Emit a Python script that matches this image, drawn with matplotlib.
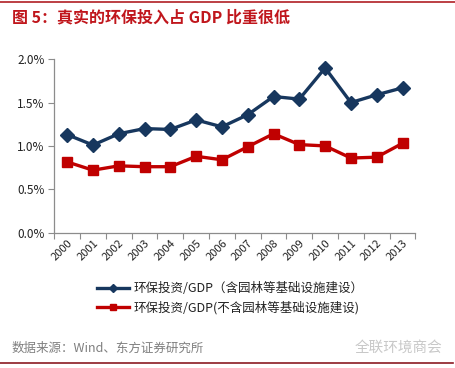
import matplotlib
matplotlib.use("Agg")
import matplotlib.pyplot as plt
from matplotlib.lines import Line2D
from matplotlib.ticker import FuncFormatter, FixedLocator

plt.rcParams['font.family'] = ['Noto Sans CJK SC', 'DejaVu Sans']

years = ['2000', '2001', '2002', '2003', '2004', '2005', '2006',
         '2007', '2008', '2009', '2010', '2011', '2012', '2013']
incl_garden = [1.13, 1.01, 1.14, 1.20, 1.19, 1.30, 1.22,
               1.36, 1.57, 1.54, 1.90, 1.50, 1.59, 1.67]
excl_garden = [0.815, 0.72, 0.77, 0.76, 0.76, 0.88, 0.84,
               0.99, 1.14, 1.015, 1.00, 0.86, 0.87, 1.03]
series_labels = ['环保投资/GDP（含园林等基础设施建设）',
                 '环保投资/GDP(不含园林等基础设施建设)']
y_ticks = [0.0, 0.5, 1.0, 1.5, 2.0]
title = '图 5：真实的环保投入占 GDP 比重很低'
source = '数据来源：Wind、东方证券研究所'
watermark = '全联环境商会'

BLUE = '#17375E'
RED = '#C00000'
AXC = '#8C8C8C'

fig = plt.figure(figsize=(4.56, 3.68), dpi=100)
ax = fig.add_axes([0.119, 0.368, 0.792, 0.471])

x = list(range(len(years)))
ax.plot(x, incl_garden, color=BLUE, lw=2.4, marker='D', ms=7.5,
        markeredgecolor=BLUE, markerfacecolor=BLUE, label=series_labels[0], zorder=3)
ax.plot(x, excl_garden, color=RED, lw=2.4, marker='s', ms=6.5,
        markeredgecolor=RED, markerfacecolor=RED, label=series_labels[1], zorder=3)

ax.set_xlim(-0.5, len(years) - 0.5)
ax.set_ylim(0, 2.0)
ax.set_yticks(y_ticks)
ax.yaxis.set_major_formatter(FuncFormatter(lambda v, p: f'{v:.1f}%'))
ax.set_xticks(x)
ax.set_xticklabels(years, rotation=45, ha='right', rotation_mode='anchor',
                   fontsize=8, color='#222222')
ax.tick_params(axis='x', length=0, pad=4)
ax.xaxis.set_minor_locator(FixedLocator([i - 0.5 for i in range(len(years) + 1)]))
ax.tick_params(axis='x', which='minor', length=4, color=AXC, width=0.8)
ax.tick_params(axis='y', length=4, color=AXC, width=0.8, labelsize=8.5,
               labelcolor='#222222', pad=3)

for s in ['top', 'right']:
    ax.spines[s].set_visible(False)
for s in ['left', 'bottom']:
    ax.spines[s].set_color(AXC)
    ax.spines[s].set_linewidth(0.9)

handles = [
    Line2D([], [], color=BLUE, lw=2.4, marker='D', ms=4, markerfacecolor=BLUE),
    Line2D([], [], color=RED, lw=2.4, marker='s', ms=5, markerfacecolor=RED),
]
fig.legend(handles, series_labels, loc='center', bbox_to_anchor=(0.505, 0.189),
           frameon=False, fontsize=9, handlelength=2.6, labelspacing=0.45,
           handletextpad=0.4, labelcolor='#222222')

fig.text(0.026, 0.953, title, color='#C0161C', fontsize=11.5, fontweight='bold',
         ha='left', va='center')
fig.add_artist(Line2D([0.0, 1.0], [0.994, 0.994], color='#B01F24', lw=1.2))
fig.add_artist(Line2D([0.0, 0.993], [0.014, 0.014], color='#8B1A22', lw=1.2))

fig.text(0.026, 0.054, source, color='#7F7F7F', fontsize=9, ha='left', va='center')
fig.text(0.97, 0.054, watermark, color='#C8C8C8', fontsize=10.5, ha='right', va='center')

fig.savefig('out.png', dpi=100, facecolor='white')
